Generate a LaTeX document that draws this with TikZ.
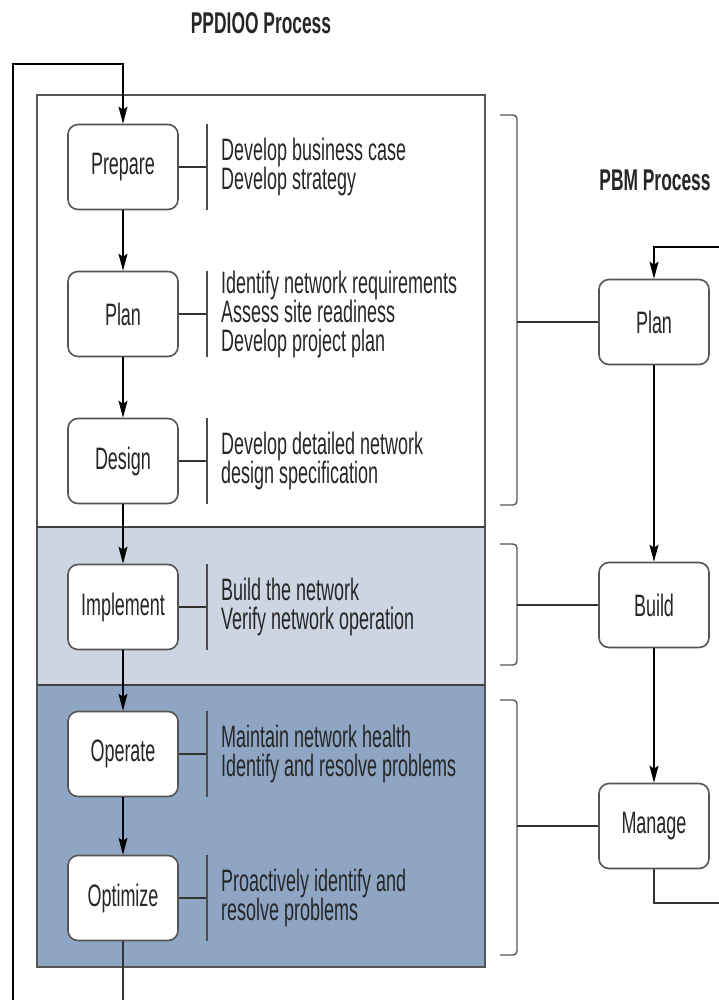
\documentclass[tikz,border=0pt]{standalone}
\usepackage{fontspec}
\setmainfont[FakeStretch=0.58]{Liberation Sans}
\usetikzlibrary{arrows.meta, positioning}
\definecolor{bandlight}{HTML}{CDD5E2}
\definecolor{banddark}{HTML}{8FA5C4}
\definecolor{edgegray}{HTML}{555555}
\tikzset{
  phase/.style = {draw=edgegray, line width=1.6pt, fill=white, rounded corners=10pt,
                  minimum width=110pt, minimum height=85pt, text=black!85,
                  font=\fontsize{31}{29}\selectfont},
  task/.style = {anchor=west, align=left, inner sep=0pt, text=black!85,
                 font=\fontsize{31}{29}\selectfont},
  title/.style = {font=\bfseries\fontsize{30}{30}\selectfont, text=black!85},
  flow/.style = {line width=1.1pt, -{Stealth[length=17pt, width=9pt, inset=3pt]}},
  link/.style = {line width=1.1pt, draw=black!80},
  bracket/.style = {line width=1.4pt, draw=edgegray, rounded corners=4pt}
}

\begin{document}
\begin{tikzpicture}[x=1pt, y=-1pt]
\useasboundingbox (0,0) rectangle (719,1000);

% PPDIOO bands
\fill[bandlight] (37,527) rectangle (485,685);
\fill[banddark] (37,685) rectangle (485,967);
\draw[line width=1.4pt, draw=edgegray] (37,95) rectangle (485,967);
\draw[line width=2pt, draw=black!75] (37,527) -- (485,527);
\draw[line width=2pt, draw=black!75] (37,685) -- (485,685);

\node[title] (ppdioo) at (261,23) {PPDIOO Process};
\node[title] (pbm) at (655,180) {PBM Process};

% PPDIOO phases
\node[phase] (prepare) at (123,167) {Prepare};
\node[phase] (plan) at (123,314) {Plan};
\node[phase] (design) at (123,461) {Design};
\node[phase] (implement) at (123,607) {Implement};
\node[phase] (operate) at (123,754) {Operate};
\node[phase] (optimize) at (123,898) {Optimize};

\foreach \a/\b in {prepare/plan, plan/design, design/implement,
                   implement/operate, operate/optimize}
  \draw[flow] (\a) -- (\b);

% tasks of each phase
\foreach \p/\t in {prepare/{Develop business case\\Develop strategy},
                   plan/{Identify network requirements\\Assess site readiness\\Develop project plan},
                   design/{Develop detailed network\\design specification},
                   implement/{Build the network\\Verify network operation},
                   operate/{Maintain network health\\Identify and resolve problems},
                   optimize/{Proactively identify and\\resolve problems}} {
  \coordinate (\p bar) at (207,0 |- \p.center);
  \draw[link] (\p.east) -- (\p bar);
  \draw[line width=1.1pt, draw=black!70] ([yshift=43pt]\p bar) -- ([yshift=-43pt]\p bar);
  \node[task] (\p task) at ([xshift=14pt]\p bar) {\t};
}

% feedback loop
\coordinate (loopfoot) at (13,1000);
\coordinate (loopend) at (123,1000);
\draw[flow] (loopfoot) |- (123,64) -- (prepare.north);
\draw[link] (optimize.south) -- (loopend);

% PBM process
\node[phase] (pbmplan) at (654,322) {Plan};
\node[phase] (pbmbuild) at (654,605) {Build};
\node[phase] (pbmmanage) at (654,826) {Manage};

\coordinate (pbmin) at (719,247);
\coordinate (pbmout) at (719,903);
\draw[flow] (pbmin) -| (pbmplan.north);
\draw[flow] (pbmplan) -- (pbmbuild);
\draw[flow] (pbmbuild) -- (pbmmanage);
\draw[link] (pbmmanage.south) |- (pbmout);

% brackets
\draw[bracket] (500,115) -| (517,505) -- (500,505);
\draw[bracket] (500,544) -| (517,665) -- (500,665);
\draw[bracket] (500,700) -| (517,955) -- (500,955);
\draw[link] (517,322) -- (pbmplan.west);
\draw[link] (517,605) -- (pbmbuild.west);
\draw[link] (517,826) -- (pbmmanage.west);
\end{tikzpicture}
\end{document}
